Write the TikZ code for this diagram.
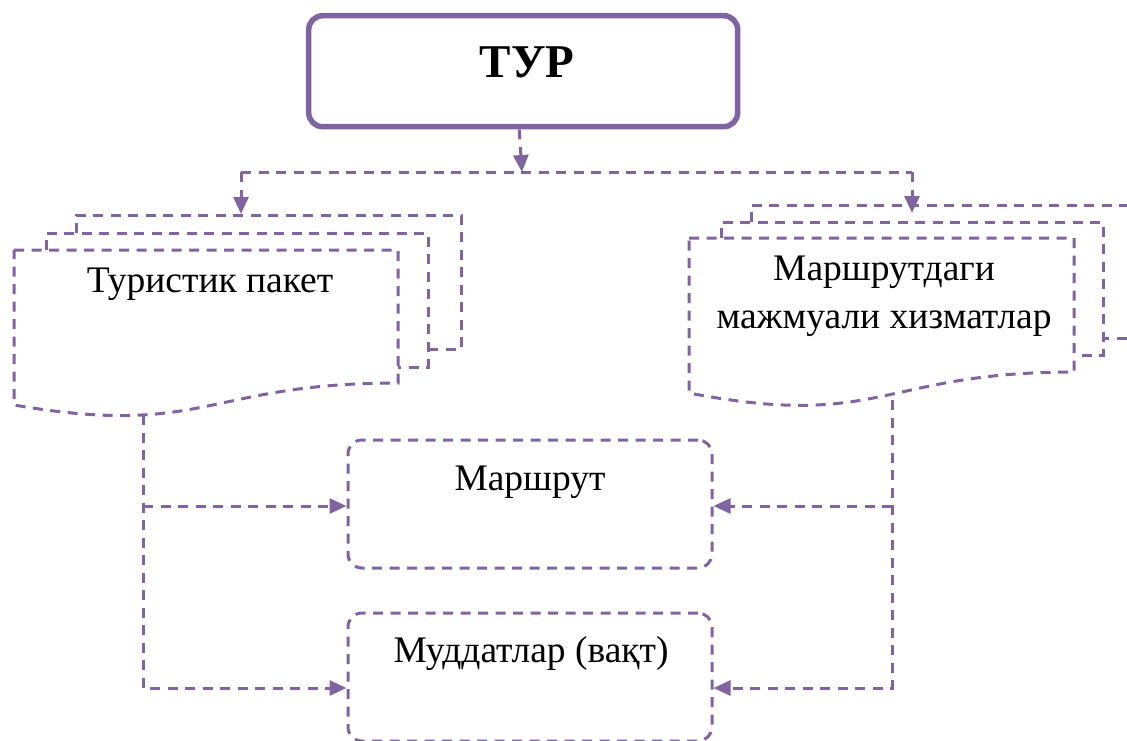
\documentclass[tikz,border=0pt]{standalone}
\usepackage{fontspec}
\setmainfont{Liberation Serif}
\usetikzlibrary{arrows.meta}
\definecolor{acc}{HTML}{8064A2}
\begin{document}
\begin{tikzpicture}[x=1pt,y=-1pt,
  dline/.style={draw=acc, line width=3pt, dash pattern=on 10pt off 7.5pt},
  arr/.style={dline, -{Triangle[length=17pt,width=15pt]}},
  txt/.style={anchor=base, font=\fontsize{37.5}{48}\selectfont, inner sep=0pt, align=center},
  turbox/.style={draw=acc, line width=5.5pt, rounded corners=14pt, minimum width=429pt, minimum height=111pt, inner sep=0pt},
  ibox/.style={dline, rounded corners=14pt, minimum width=364pt, minimum height=128pt, inner sep=0pt}]
\path[use as bounding box] (0,0) rectangle (1127,740);
\clip (0,0) rectangle (1127,740);

% top box
\node[turbox] (tur) at (523.2,71.2) {};
\node[txt, font=\fontsize{47}{52}\selectfont\bfseries] (turt) at (527,77) {ТУР};

% distribution line
\coordinate (hub) at (522,172);
\coordinate (hl) at (241,172);
\coordinate (hr) at (912,172);
\coordinate (ltgt) at (241,214);
\coordinate (rtgt) at (912,213);
\draw[arr] ([xshift=-4pt]tur.south) -- (hub);
\draw[dline] (hl) -- (hr);
\draw[arr] (hl) -- (ltgt);
\draw[arr] (hr) -- (rtgt);

% left multi-document
\draw[dline] (76,233) -- (76,215) -- (461,215) -- (461,349) -- (428,349);
\draw[dline] (46,250) -- (46,233) -- (428,233) -- (428,367) -- (398,367);
\draw[dline] (14,250) -- (398,250) -- (398,383) .. controls (206,383) and (206,438) .. (14,405) -- cycle;
\node[txt] (tp) at (210,292) {Туристик пакет};

% right multi-document
\draw[dline] (751,222) -- (751,205) -- (1135,205) -- (1135,338) -- (1103,338);
\draw[dline] (721,238) -- (721,222) -- (1103,222) -- (1103,355) -- (1074,355);
\draw[dline] (689,238) -- (1074,238) -- (1074,372) .. controls (881.5,372) and (881.5,430) .. (689,393) -- cycle;
\node[txt] (mx) at (884,328) {Маршрутдаги\\мажмуали хизматлар};

% middle boxes
\node[ibox] (mar) at (530,504) {};
\node[txt] (mart) at (530,490) {Маршрут};
\node[ibox] (mud) at (530,677) {};
\node[txt] (mudt) at (531,662) {Муддатлар (вақт)};

% left connectors
\coordinate (lb) at (143,415);
\coordinate (lbm) at (143,506);
\coordinate (lbe) at (143,688);
\draw[arr] (lb) -- (lbe) -- (lbe -| mud.west);
\draw[arr] (lbm) -- (lbm -| mar.west);

% right connectors
\coordinate (rb) at (892,400);
\coordinate (rbm) at (892,506);
\coordinate (rbe) at (892,688);
\draw[arr] (rb) -- (rbe) -- (rbe -| mud.east);
\draw[arr] (rbm) -- (rbm -| mar.east);
\end{tikzpicture}
\end{document}
